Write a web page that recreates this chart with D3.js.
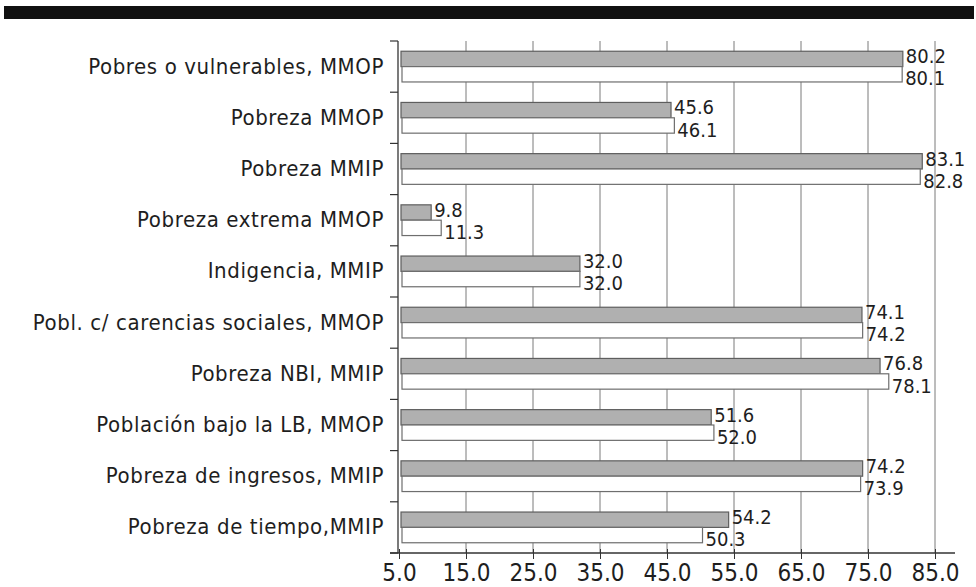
<!DOCTYPE html>
<html>
<head>
<meta charset="utf-8">
<script src="https://cdn.jsdelivr.net/npm/d3@7"></script>
<style>
  html, body { margin: 0; padding: 0; background: #ffffff; }
  svg { display: block; }
  text { font-family: "DejaVu Sans Condensed", "Liberation Sans Narrow", "Liberation Sans", sans-serif; fill: #1e1e1e; }
</style>
</head>
<body>
<svg id="chart" width="976" height="587"></svg>
<script>
// ---- data ----
const categories = [
  "Pobres o vulnerables, MMOP",
  "Pobreza MMOP",
  "Pobreza MMIP",
  "Pobreza extrema MMOP",
  "Indigencia, MMIP",
  "Pobl. c/ carencias sociales, MMOP",
  "Pobreza NBI, MMIP",
  "Población bajo la LB, MMOP",
  "Pobreza de ingresos, MMIP",
  "Pobreza de tiempo,MMIP"
];
const seriesGray  = [80.2, 45.6, 83.1, 9.8, 32.0, 74.1, 76.8, 51.6, 74.2, 54.2];
const seriesWhite = [80.1, 46.1, 82.8, 11.3, 32.0, 74.2, 78.1, 52.0, 73.9, 50.3];
const xTicks = [5, 15, 25, 35, 45, 55, 65, 75, 85];
const xDomain = [5, 85];

// ---- layout ----
const svg = d3.select("#chart");
const M = { left: 398, right: 935, top: 41, bottom: 553 };

// top black band
svg.append("rect").attr("x", 4).attr("y", 6).attr("width", 970).attr("height", 13).attr("fill", "#111");

const x = d3.scaleLinear().domain(xDomain).range([M.left + 1, M.right]);
const y = d3.scaleBand().domain(categories).range([M.top, M.bottom]).paddingInner(0.4).paddingOuter(0.2);
const sub = d3.scaleBand().domain(["gray", "white"]).range([0, y.bandwidth()]);

// gridlines
svg.append("g").selectAll("line").data(xTicks.slice(1)).join("line")
  .attr("x1", d => x(d)).attr("x2", d => x(d))
  .attr("y1", M.top).attr("y2", M.bottom)
  .attr("stroke", "#7a7a7a").attr("stroke-width", 1);

// bars
const rows = categories.map((c, i) => ({ c, g: seriesGray[i], w: seriesWhite[i] }));
const gBars = svg.append("g");
rows.forEach(r => {
  gBars.append("rect")
    .attr("x", x(xDomain[0]) + 2).attr("y", y(r.c) + sub("gray"))
    .attr("width", x(r.g) - x(xDomain[0]) - 2).attr("height", sub.bandwidth())
    .attr("fill", "#b0b0b0").attr("stroke", "#5e5e5e").attr("stroke-width", 1.2);
  gBars.append("rect")
    .attr("x", x(xDomain[0]) + 3).attr("y", y(r.c) + sub("white"))
    .attr("width", x(r.w) - x(xDomain[0]) - 3).attr("height", sub.bandwidth())
    .attr("fill", "#ffffff").attr("stroke", "#6e6e6e").attr("stroke-width", 1.2);
});

// value labels
const fmt = d3.format(".1f");
const gLab = svg.append("g").attr("font-size", 20);
rows.forEach(r => {
  gLab.append("text")
    .attr("x", x(r.g) + 3).attr("y", y(r.c) + sub("gray") + sub.bandwidth() / 2 - 3)
    .attr("dy", "0.36em").text(fmt(r.g));
  gLab.append("text")
    .attr("x", x(r.w) + 3).attr("y", y(r.c) + sub("white") + sub.bandwidth() / 2 + 4)
    .attr("dy", "0.36em").text(fmt(r.w));
});

// x axis
const xAxis = svg.append("g").attr("transform", `translate(0,${M.bottom})`)
  .call(d3.axisBottom(x).tickValues(xTicks).tickFormat(d3.format(".1f")).tickSize(6).tickSizeOuter(0));
xAxis.select(".domain").attr("stroke", "#333").attr("stroke-width", 1.3).attr("d", `M${M.left - 8},0H${M.right + 20}`);
xAxis.selectAll(".tick line").attr("stroke", "#333").attr("y1", -4);
xAxis.selectAll(".tick text").attr("font-size", 24).attr("dy", null).attr("y", 28)
  .style("font-family", '"DejaVu Sans Condensed", "Liberation Sans Narrow", sans-serif').attr("fill", "#1e1e1e");

// y axis
const yAxisG = svg.append("g");
yAxisG.append("line").attr("x1", M.left).attr("x2", M.left).attr("y1", M.top).attr("y2", M.bottom)
  .attr("stroke", "#333").attr("stroke-width", 1.3);
const bounds = categories.map(c => y(c) - y.step() * y.paddingOuter()).concat([M.bottom]);
yAxisG.selectAll("line.t").data(bounds).join("line").attr("class", "t")
  .attr("x1", M.left - 8).attr("x2", M.left).attr("y1", d => d).attr("y2", d => d)
  .attr("stroke", "#333").attr("stroke-width", 1.2);
yAxisG.selectAll("text").data(categories).join("text")
  .attr("x", M.left - 14).attr("y", d => y(d) + y.bandwidth() / 2 - 1)
  .attr("dy", "0.36em").attr("text-anchor", "end").attr("font-size", 22)
  .attr("letter-spacing", 0.6)
  .text(d => d);
</script>
</body>
</html>
